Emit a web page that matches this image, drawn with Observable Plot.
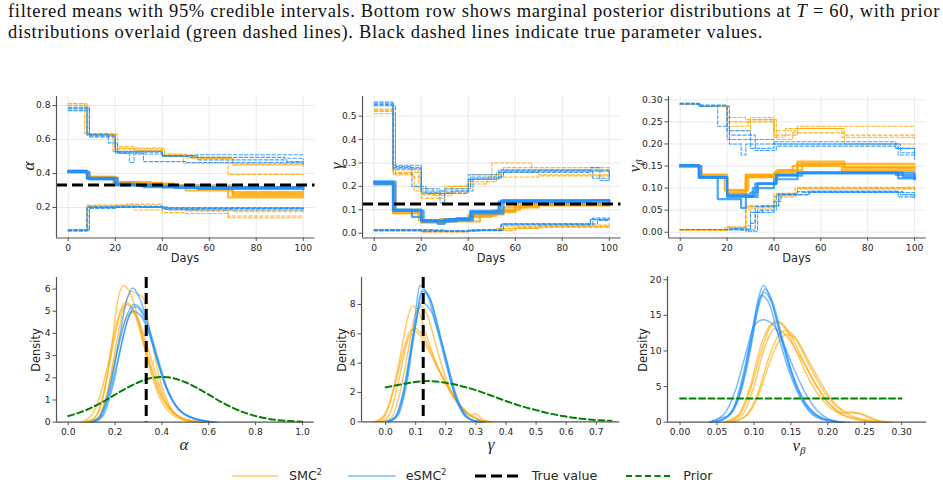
<!DOCTYPE html>
<html>
<head>
<meta charset="utf-8">
<script src="https://cdn.jsdelivr.net/npm/d3@7"></script>
<script src="https://cdn.jsdelivr.net/npm/@observablehq/plot@0.6"></script>
<style>
  html, body { margin: 0; padding: 0; background: #fff; }
  body { width: 943px; height: 487px; position: relative; overflow: hidden; font-family: "DejaVu Sans", sans-serif; }
  .cap { position: absolute; left: 8px; font-family: "Liberation Serif", "DejaVu Serif", serif; font-size: 18.5px; white-space: nowrap; color: #111; line-height: 1; }
  .panel { position: absolute; }
  .lab { position: absolute; white-space: nowrap; color: #262626; transform: translate(-50%, -50%); line-height: 1; }
  .lab.rot { transform: translate(-50%, -50%) rotate(-90deg); }
  .sans { font-family: "DejaVu Sans", sans-serif; font-size: 11.4px; }
  .math { font-family: "Liberation Serif", "DejaVu Serif", serif; font-style: italic; font-size: 17px; }
  .math sub { font-size: 11px; vertical-align: -3px; }
  .leg { position: absolute; font-family: "DejaVu Sans", sans-serif; font-size: 12.7px; color: #262626; transform: translateY(-50%); white-space: nowrap; line-height: 1; }
  .leg sup { font-size: 8px; vertical-align: 5px; }
  .legsw { position: absolute; }
</style>
</head>
<body>
<div class="cap" id="cap1" style="top:2.2px">filtered means with 95% credible intervals. Bottom row shows marginal posterior distributions at <i>T</i> = 60, with prior</div>
<div class="cap" id="cap2" style="top:22.8px">distributions overlaid (green dashed lines). Black dashed lines indicate true parameter values.</div>
<script>
// ---------- colours ----------
const SMC_COLOR = "#FFA500";
const ESMC_COLOR = "#1E90FF";
const PRIOR_COLOR = "#008000";

// ---------- true parameter values ----------
const trueAlpha = 0.333;
const trueGamma = 0.125;

// ---------- filtered estimates over time: each run is a list of [day, value] change points ----------
const alphaUpperSMC = [
  [[0,0.80],[8,0.63],[20,0.55],[40,0.515],[50,0.49],[70,0.455],[100,0.455]],
  [[0,0.81],[7,0.635],[20,0.545],[41,0.505],[49,0.46],[100,0.44]],
  [[0,0.80],[9,0.625],[19,0.53],[40,0.51],[53,0.495],[68,0.395],[100,0.395]],
  [[0,0.81],[8,0.63],[21,0.56],[28,0.535],[40,0.50],[55,0.49],[70,0.45],[100,0.45]]
];
const alphaMeanSMC = [
  [[0,0.41],[8,0.38],[20,0.35],[30,0.345],[40,0.335],[45,0.325],[50,0.315],[70,0.28],[100,0.28]],
  [[0,0.41],[8,0.375],[21,0.345],[28,0.34],[40,0.33],[55,0.31],[68,0.26],[100,0.26]],
  [[0,0.405],[9,0.37],[20,0.34],[30,0.335],[42,0.325],[50,0.30],[70,0.29],[100,0.29]],
  [[0,0.41],[8,0.38],[19,0.35],[35,0.34],[45,0.33],[70,0.27],[100,0.27]]
];
const alphaLowerSMC = [
  [[0,0.07],[8,0.205],[20,0.21],[28,0.185],[40,0.17],[50,0.165],[68,0.15],[100,0.15]],
  [[0,0.065],[8,0.21],[20,0.215],[30,0.20],[42,0.19],[70,0.175],[100,0.175]],
  [[0,0.07],[9,0.20],[22,0.21],[40,0.195],[55,0.185],[100,0.185]],
  [[0,0.065],[8,0.215],[25,0.22],[40,0.20],[50,0.18],[68,0.14],[100,0.14]]
];
const alphaUpperESMC = [
  [[0,0.79],[8,0.625],[20,0.525],[40,0.505],[54,0.51],[100,0.505]],
  [[0,0.78],[9,0.615],[20,0.52],[26,0.465],[28,0.515],[40,0.505],[55,0.48],[93,0.47],[100,0.47]],
  [[0,0.77],[8,0.63],[17,0.58],[21,0.52],[32,0.47],[50,0.465],[100,0.455]],
  [[0,0.785],[9,0.62],[20,0.53],[40,0.50],[52,0.495],[92,0.49],[100,0.48]]
];
const alphaMeanESMC = [
  [[0,0.415],[8,0.37],[20,0.335],[30,0.325],[40,0.32],[50,0.315],[100,0.31]],
  [[0,0.41],[9,0.365],[20,0.33],[32,0.32],[45,0.315],[100,0.305]],
  [[0,0.415],[8,0.375],[21,0.34],[28,0.33],[40,0.32],[55,0.31],[100,0.31]],
  [[0,0.41],[8,0.37],[20,0.335],[40,0.325],[50,0.32],[100,0.315]]
];
const alphaLowerESMC = [
  [[0,0.065],[9,0.195],[20,0.20],[40,0.19],[55,0.195],[100,0.195]],
  [[0,0.06],[8,0.20],[28,0.205],[40,0.195],[100,0.19]],
  [[0,0.07],[9,0.20],[20,0.205],[42,0.185],[100,0.185]],
  [[0,0.065],[8,0.205],[30,0.20],[50,0.20],[100,0.20]]
];

const gammaUpperSMC = [
  [[0,0.52],[8,0.25],[17,0.18],[20,0.15],[30,0.19],[41,0.23],[50,0.30],[67,0.26],[70,0.25],[100,0.25]],
  [[0,0.51],[9,0.26],[20,0.17],[30,0.20],[40,0.22],[52,0.26],[70,0.27],[100,0.265]],
  [[0,0.53],[8,0.27],[19,0.19],[25,0.16],[33,0.20],[41,0.25],[55,0.28],[100,0.26]],
  [[0,0.525],[8,0.255],[16,0.24],[20,0.165],[30,0.175],[40,0.21],[48,0.24],[70,0.245],[100,0.26]]
];
const gammaMeanSMC = [
  [[0,0.21],[8,0.085],[20,0.05],[30,0.055],[41,0.07],[50,0.09],[60,0.11],[70,0.12],[100,0.12]],
  [[0,0.215],[8,0.09],[19,0.055],[35,0.06],[42,0.08],[55,0.11],[65,0.125],[100,0.125]],
  [[0,0.21],[9,0.095],[20,0.045],[30,0.05],[45,0.075],[52,0.10],[62,0.115],[70,0.12],[100,0.12]],
  [[0,0.215],[8,0.10],[20,0.055],[28,0.06],[40,0.075],[50,0.095],[60,0.12],[100,0.125]]
];
const gammaLowerSMC = [
  [[0,0.01],[20,0.005],[40,0.01],[55,0.02],[70,0.03],[100,0.03]],
  [[0,0.012],[25,0.008],[45,0.012],[52,0.02],[70,0.035],[100,0.04]],
  [[0,0.01],[20,0.006],[40,0.012],[60,0.025],[100,0.03]],
  [[0,0.011],[30,0.008],[42,0.013],[55,0.03],[100,0.035]]
];
const gammaUpperESMC = [
  [[0,0.56],[8,0.29],[20,0.19],[28,0.18],[40,0.25],[53,0.27],[92,0.27],[100,0.24]],
  [[0,0.55],[8,0.28],[20,0.18],[30,0.19],[41,0.24],[55,0.265],[93,0.235],[100,0.23]],
  [[0,0.545],[9,0.285],[16,0.20],[22,0.17],[33,0.18],[42,0.235],[54,0.27],[92,0.28],[96,0.225],[100,0.225]],
  [[0,0.555],[8,0.275],[20,0.175],[28,0.13],[30,0.17],[40,0.23],[53,0.26],[92,0.265],[100,0.24]]
];
const gammaMeanESMC = [
  [[0,0.22],[8,0.10],[20,0.055],[27,0.04],[30,0.06],[41,0.09],[54,0.14],[100,0.135]],
  [[0,0.215],[8,0.095],[21,0.05],[32,0.06],[41,0.095],[53,0.135],[92,0.14],[100,0.13]],
  [[0,0.22],[9,0.10],[20,0.055],[30,0.055],[42,0.085],[55,0.14],[100,0.14]],
  [[0,0.21],[8,0.10],[16,0.07],[20,0.05],[35,0.065],[41,0.09],[53,0.13],[100,0.13]]
];
const gammaLowerESMC = [
  [[0,0.014],[20,0.008],[40,0.013],[54,0.04],[92,0.06],[100,0.06]],
  [[0,0.015],[25,0.01],[42,0.015],[54,0.035],[93,0.065],[100,0.065]],
  [[0,0.013],[20,0.009],[40,0.012],[55,0.04],[95,0.055],[100,0.055]],
  [[0,0.014],[30,0.01],[44,0.015],[54,0.038],[92,0.058],[100,0.06]]
];

const nuUpperSMC = [
  [[0,0.29],[8,0.285],[20,0.26],[28,0.255],[40,0.22],[50,0.235],[70,0.22],[100,0.22]],
  [[0,0.29],[8,0.285],[20,0.25],[30,0.26],[40,0.23],[50,0.24],[100,0.24]],
  [[0,0.29],[9,0.285],[21,0.23],[30,0.255],[41,0.21],[48,0.225],[70,0.20],[100,0.20]],
  [[0,0.29],[8,0.285],[20,0.24],[29,0.25],[40,0.215],[45,0.235],[69,0.215],[100,0.21]]
];
const nuMeanSMC = [
  [[0,0.148],[8,0.125],[20,0.09],[28,0.13],[40,0.135],[50,0.155],[100,0.155]],
  [[0,0.148],[8,0.13],[20,0.095],[29,0.125],[41,0.14],[50,0.16],[70,0.145],[100,0.145]],
  [[0,0.15],[8,0.125],[20,0.085],[28,0.13],[40,0.13],[48,0.15],[69,0.14],[100,0.14]],
  [[0,0.148],[9,0.13],[19,0.095],[28,0.125],[42,0.14],[52,0.155],[70,0.148],[100,0.148]]
];
const nuLowerSMC = [
  [[0,0.005],[20,0.01],[28,0.06],[40,0.085],[50,0.10],[100,0.10]],
  [[0,0.005],[20,0.012],[28,0.055],[40,0.08],[49,0.10],[100,0.095]],
  [[0,0.005],[19,0.01],[28,0.015],[30,0.06],[42,0.085],[50,0.098],[100,0.10]],
  [[0,0.005],[21,0.01],[28,0.058],[41,0.088],[50,0.102],[100,0.098]]
];
const nuUpperESMC = [
  [[0,0.292],[8,0.285],[16,0.24],[21,0.20],[26,0.175],[28,0.20],[40,0.205],[92,0.19],[100,0.18]],
  [[0,0.292],[8,0.288],[20,0.23],[30,0.19],[40,0.20],[93,0.175],[100,0.17]],
  [[0,0.29],[9,0.286],[21,0.22],[32,0.185],[41,0.195],[92,0.19],[100,0.165]],
  [[0,0.291],[8,0.287],[20,0.21],[33,0.21],[40,0.20],[94,0.18],[100,0.175]]
];
const nuMeanESMC = [
  [[0,0.152],[8,0.125],[16,0.075],[26,0.055],[28,0.08],[33,0.11],[41,0.13],[50,0.135],[92,0.135],[100,0.12]],
  [[0,0.152],[8,0.123],[20,0.085],[30,0.09],[33,0.11],[41,0.13],[50,0.133],[93,0.122],[100,0.12]],
  [[0,0.15],[9,0.125],[20,0.08],[31,0.10],[40,0.12],[50,0.135],[95,0.125],[100,0.12]],
  [[0,0.152],[8,0.125],[20,0.082],[32,0.11],[41,0.128],[52,0.135],[92,0.13],[100,0.12]]
];
const nuLowerESMC = [
  [[0,0.006],[20,0.005],[30,0.02],[32,0.045],[40,0.06],[42,0.085],[55,0.09],[92,0.09],[100,0.08]],
  [[0,0.006],[22,0.008],[28,0.002],[33,0.05],[41,0.085],[52,0.09],[94,0.085],[100,0.082]],
  [[0,0.006],[25,0.005],[32,0.058],[40,0.07],[43,0.085],[55,0.093],[93,0.08],[100,0.08]],
  [[0,0.006],[20,0.007],[30,0.045],[35,0.06],[42,0.087],[50,0.092],[95,0.085],[100,0.078]]
];

// ---------- marginal posterior densities at T = 60: each run is a list of [x, density] points ----------
const alphaDensSMC = [
  [[0.06,0],[0.10,0.1],[0.14,0.8],[0.18,3.0],[0.21,5.4],[0.235,6.15],[0.26,5.9],[0.29,5.0],[0.32,3.6],[0.36,2.0],[0.40,0.9],[0.45,0.3],[0.50,0.08],[0.58,0]],
  [[0.07,0],[0.11,0.15],[0.15,1.2],[0.19,3.4],[0.22,4.8],[0.25,5.3],[0.28,5.0],[0.31,4.2],[0.34,3.0],[0.38,1.7],[0.42,0.8],[0.47,0.25],[0.53,0.05],[0.60,0]],
  [[0.08,0],[0.12,0.1],[0.16,1.0],[0.20,2.9],[0.24,4.5],[0.27,4.95],[0.30,4.6],[0.33,3.7],[0.37,2.3],[0.41,1.1],[0.46,0.35],[0.52,0.08],[0.60,0]],
  [[0.09,0],[0.13,0.2],[0.17,1.5],[0.21,3.8],[0.24,5.2],[0.27,5.9],[0.30,5.75],[0.32,5.6],[0.35,4.0],[0.39,2.0],[0.43,0.8],[0.48,0.2],[0.55,0.02],[0.60,0]],
  [[0.05,0],[0.09,0.2],[0.13,1.0],[0.17,2.6],[0.21,4.6],[0.245,5.4],[0.28,5.0],[0.31,4.0],[0.35,2.5],[0.39,1.3],[0.44,0.5],[0.50,0.12],[0.57,0]]
];
const alphaDensESMC = [
  [[0.10,0],[0.14,0.3],[0.18,1.6],[0.22,3.9],[0.25,5.5],[0.275,6.05],[0.30,5.7],[0.33,4.8],[0.36,3.6],[0.40,2.1],[0.45,0.9],[0.50,0.35],[0.55,0.12],[0.62,0]],
  [[0.09,0],[0.13,0.2],[0.17,1.3],[0.21,3.2],[0.25,4.8],[0.28,5.3],[0.31,5.1],[0.34,4.4],[0.38,3.0],[0.42,1.6],[0.47,0.6],[0.52,0.25],[0.57,0.1],[0.63,0]],
  [[0.10,0],[0.14,0.25],[0.18,1.4],[0.22,3.2],[0.25,4.5],[0.275,5.0],[0.30,4.9],[0.33,4.4],[0.37,3.2],[0.41,1.8],[0.46,0.7],[0.51,0.25],[0.56,0.1],[0.62,0]],
  [[0.11,0],[0.15,0.3],[0.19,1.6],[0.23,3.6],[0.26,4.8],[0.285,5.2],[0.31,5.0],[0.34,4.2],[0.38,2.8],[0.42,1.5],[0.47,0.6],[0.53,0.2],[0.60,0.02],[0.64,0]]
];
const alphaPrior = [[0,0.28],[0.05,0.44],[0.1,0.66],[0.15,0.93],[0.2,1.24],[0.25,1.54],[0.3,1.80],[0.35,1.98],[0.4,2.04],[0.45,1.98],[0.5,1.80],[0.55,1.54],[0.6,1.24],[0.65,0.93],[0.7,0.66],[0.75,0.44],[0.8,0.28],[0.85,0.16],[0.9,0.09],[0.95,0.05],[1.0,0.02]];

const gammaDensSMC = [
  [[-0.04,0],[-0.01,0.3],[0.02,1.8],[0.05,4.6],[0.07,6.8],[0.09,7.9],[0.11,7.5],[0.14,5.6],[0.17,3.9],[0.20,2.6],[0.23,1.5],[0.26,0.8],[0.29,0.35],[0.32,0.1],[0.36,0]],
  [[-0.03,0],[0.00,0.5],[0.03,2.4],[0.06,4.9],[0.085,6.3],[0.11,6.0],[0.14,5.0],[0.17,3.8],[0.20,2.7],[0.23,1.6],[0.26,0.9],[0.285,0.45],[0.30,0.55],[0.32,0.2],[0.35,0]],
  [[-0.02,0],[0.01,0.4],[0.04,2.5],[0.07,5.3],[0.095,6.4],[0.12,6.0],[0.15,4.8],[0.18,3.4],[0.21,2.3],[0.24,1.3],[0.27,0.6],[0.30,0.25],[0.33,0]],
  [[-0.01,0],[0.02,0.3],[0.05,2.2],[0.08,5.4],[0.10,7.4],[0.12,7.9],[0.14,7.2],[0.17,5.0],[0.20,3.0],[0.23,1.6],[0.26,0.8],[0.29,0.3],[0.32,0.08],[0.34,0]]
];
const gammaDensESMC = [
  [[0.00,0],[0.03,0.3],[0.06,2.0],[0.09,5.8],[0.115,9.3],[0.14,8.6],[0.17,6.4],[0.20,4.0],[0.23,1.8],[0.26,0.5],[0.29,0.1],[0.32,0]],
  [[0.01,0],[0.04,0.4],[0.07,2.6],[0.10,6.6],[0.125,9.0],[0.15,8.3],[0.18,6.0],[0.21,3.6],[0.24,1.5],[0.27,0.4],[0.30,0.05],[0.33,0]],
  [[0.00,0],[0.03,0.3],[0.06,2.2],[0.09,5.7],[0.12,8.1],[0.15,7.6],[0.18,5.8],[0.20,4.4],[0.23,2.0],[0.26,0.6],[0.29,0.1],[0.32,0]],
  [[0.01,0],[0.04,0.5],[0.07,2.9],[0.10,6.8],[0.12,8.9],[0.145,8.5],[0.17,6.8],[0.20,4.2],[0.23,1.8],[0.26,0.5],[0.29,0.1],[0.32,0]]
];
const gammaPrior = [[0,2.35],[0.05,2.55],[0.1,2.72],[0.15,2.78],[0.2,2.66],[0.25,2.45],[0.3,2.16],[0.35,1.8],[0.4,1.42],[0.45,1.08],[0.5,0.8],[0.55,0.55],[0.6,0.36],[0.65,0.22],[0.7,0.13],[0.75,0.07]];

const nuDensSMC = [
  [[0.06,0],[0.08,1.0],[0.095,4.5],[0.11,10],[0.12,13],[0.13,14.2],[0.14,13.5],[0.155,10.5],[0.17,7.0],[0.185,4.2],[0.20,2.3],[0.22,1.0],[0.24,0.5],[0.26,0.1],[0.28,0]],
  [[0.065,0],[0.085,1.2],[0.10,5.0],[0.113,10.0],[0.128,13.1],[0.14,12.5],[0.155,10.5],[0.17,7.8],[0.185,5.0],[0.20,2.8],[0.22,1.3],[0.24,1.3],[0.255,0.6],[0.275,0.05],[0.29,0]],
  [[0.07,0],[0.09,1.0],[0.105,4.0],[0.12,9.0],[0.132,12.0],[0.142,12.9],[0.155,12.0],[0.17,9.0],[0.185,6.0],[0.20,3.5],[0.22,1.5],[0.24,0.6],[0.26,0.2],[0.28,0]],
  [[0.07,0],[0.09,0.9],[0.105,3.5],[0.12,8.0],[0.133,11.2],[0.145,12.3],[0.158,11.5],[0.172,9.0],[0.188,6.0],[0.205,3.2],[0.225,1.5],[0.24,1.3],[0.25,1.0],[0.27,0.2],[0.285,0]],
  [[0.06,0],[0.08,1.2],[0.095,5.0],[0.11,11],[0.122,13.6],[0.135,14.0],[0.148,12.6],[0.163,9.5],[0.18,6.0],[0.195,3.5],[0.21,1.8],[0.23,0.6],[0.25,0.15],[0.27,0]]
];
const nuDensESMC = [
  [[0.04,0],[0.06,0.5],[0.08,4.0],[0.095,11],[0.105,17],[0.113,19.2],[0.122,17.5],[0.135,12.5],[0.15,7.0],[0.165,3.2],[0.18,1.2],[0.20,0.3],[0.22,0]],
  [[0.045,0],[0.065,0.8],[0.08,3.5],[0.095,10],[0.106,16.5],[0.115,18.7],[0.125,17],[0.138,12],[0.152,6.8],[0.168,3.0],[0.185,1.0],[0.205,0.2],[0.22,0]],
  [[0.04,0],[0.055,0.6],[0.065,0.9],[0.08,3.6],[0.095,10.5],[0.107,16.5],[0.114,18.3],[0.124,16.8],[0.138,11.5],[0.153,6.5],[0.17,2.6],[0.19,0.7],[0.21,0.1],[0.23,0]],
  [[0.05,0],[0.07,1.5],[0.085,6.5],[0.10,14],[0.11,17.8],[0.12,16.8],[0.132,12.5],[0.148,7.0],[0.165,3.0],[0.18,1.0],[0.20,0.2],[0.22,0]],
  [[0.04,0],[0.06,1.2],[0.075,4.5],[0.09,10.0],[0.10,13.5],[0.112,14.4],[0.125,13.8],[0.14,11.0],[0.155,7.3],[0.17,4.0],[0.185,1.7],[0.20,0.5],[0.22,0]]
];
const nuPrior = [[0,3.33],[0.3,3.33]];

// ---------- axis ticks ----------
const dayTicks = [0, 20, 40, 60, 80, 100];
const alphaTicks = [0.2, 0.4, 0.6, 0.8];
const gammaTicks = [0, 0.1, 0.2, 0.3, 0.4, 0.5];
const nuTicks = [0, 0.05, 0.10, 0.15, 0.20, 0.25, 0.30];
const alphaDensXTicks = [0, 0.2, 0.4, 0.6, 0.8, 1.0];
const alphaDensYTicks = [0, 1, 2, 3, 4, 5, 6];
const gammaDensXTicks = [0, 0.1, 0.2, 0.3, 0.4, 0.5, 0.6, 0.7];
const gammaDensYTicks = [0, 2, 4, 6, 8];
const nuDensXTicks = [0, 0.05, 0.10, 0.15, 0.20, 0.25, 0.30];
const nuDensYTicks = [0, 5, 10, 15, 20];

// ---------- helpers ----------
const flatten = (runs, key, xName) =>
  runs.flatMap((run, i) => run.map(([x, y]) => ({[xName]: x, value: y, run: key + i})));

const SPINE = "#555";
const TICK_FONT = 9.2;
const M = {left: 40, right: 10, top: 6, bottom: 22};

function mount(svg, x0, y0) {
  const d = document.createElement("div");
  d.className = "panel";
  d.style.left = (x0 - M.left) + "px";
  d.style.top = (y0 - M.top) + "px";
  d.appendChild(svg);
  document.body.appendChild(d);
}

function frameOpts(x0, x1, y0, y1) {
  return {
    width: x1 - x0 + M.left + M.right,
    height: y1 - y0 + M.top + M.bottom,
    marginLeft: M.left, marginRight: M.right, marginTop: M.top, marginBottom: M.bottom,
    style: {background: "transparent", color: "#262626", fontFamily: "DejaVu Sans, sans-serif", fontSize: TICK_FONT + "px", overflow: "visible"}
  };
}

function axes(xTicks, xFmt, yTicks, yFmt, xDomain, yDomain) {
  return [
    Plot.ruleX([xDomain[0]], {stroke: SPINE, strokeWidth: 1.2}),
    Plot.ruleY([yDomain[0]], {stroke: SPINE, strokeWidth: 1.2}),
    Plot.axisX({ticks: xTicks, tickFormat: xFmt, tickSize: 3.5, tickPadding: 3, stroke: SPINE, fontSize: TICK_FONT, label: null}),
    Plot.axisY({ticks: yTicks, tickFormat: yFmt, tickSize: 3.5, tickPadding: 2.5, stroke: SPINE, fontSize: TICK_FONT, label: null})
  ];
}

// Top row: filtered means (solid) with 95% credible bounds (dashed), step functions over days
function trajectoryPanel(box, yDomain, yTicks, yFmt, sets, truth) {
  const xDomain = [-5, 105];
  const [x0, x1, y0, y1] = box;
  const marks = [
    Plot.gridX(dayTicks, {stroke: "#e6e6e6", strokeOpacity: 1, strokeWidth: 0.9}),
    Plot.gridY(yTicks, {stroke: "#e6e6e6", strokeOpacity: 1, strokeWidth: 0.9})
  ];
  for (const s of sets) {
    for (const [runs, kind] of [[s.lower, "lo"], [s.upper, "up"]]) {
      marks.push(Plot.line(flatten(runs, s.name + kind, "day"), {
        x: "day", y: "value", z: "run", curve: "step-after",
        stroke: s.color, strokeWidth: 1.1, strokeOpacity: 0.85, strokeDasharray: "3.5,2"
      }));
    }
  }
  for (const s of sets) {
    marks.push(Plot.line(flatten(s.mean, s.name + "mean", "day"), {
      x: "day", y: "value", z: "run", curve: "step-after",
      stroke: s.color, strokeWidth: 2.2, strokeOpacity: 0.8
    }));
  }
  if (truth != null) marks.push(Plot.ruleY([truth], {stroke: "#000", strokeWidth: 3, strokeDasharray: "11,5"}));
  marks.push(...axes(dayTicks, d3.format("d"), yTicks, yFmt, xDomain, yDomain));
  const svg = Plot.plot({
    ...frameOpts(x0, x1, y0, y1),
    x: {domain: xDomain, label: null},
    y: {domain: yDomain, label: null},
    marks
  });
  mount(svg, x0, y0);
}

// Bottom row: posterior density curves per run, prior overlay and true value
function densityPanel(box, xDomain, yDomain, xTicks, xFmt, yTicks, smc, esmc, prior, truth) {
  const [x0, x1, y0, y1] = box;
  const marks = [
    Plot.line(flatten(smc, "smc", "x"), {x: "x", y: "value", z: "run", curve: "monotone-x", stroke: SMC_COLOR, strokeWidth: 1.5, strokeOpacity: 0.6}),
    Plot.line(flatten(esmc, "esmc", "x"), {x: "x", y: "value", z: "run", curve: "monotone-x", stroke: ESMC_COLOR, strokeWidth: 1.5, strokeOpacity: 0.6}),
    Plot.line(prior.map(([x, y]) => ({x, value: y})), {x: "x", y: "value", curve: "monotone-x", stroke: PRIOR_COLOR, strokeWidth: 2, strokeDasharray: "6,3.5"})
  ];
  if (truth != null) marks.push(Plot.ruleX([truth], {stroke: "#000", strokeWidth: 3, strokeDasharray: "11,5"}));
  marks.push(...axes(xTicks, xFmt, yTicks, d3.format("d"), xDomain, yDomain));
  const svg = Plot.plot({
    ...frameOpts(x0, x1, y0, y1),
    x: {domain: xDomain, label: null},
    y: {domain: yDomain, label: null},
    marks
  });
  mount(svg, x0, y0);
}

const smcSet = (lower, mean, upper) => ({name: "smc", color: SMC_COLOR, lower, mean, upper});
const esmcSet = (lower, mean, upper) => ({name: "esmc", color: ESMC_COLOR, lower, mean, upper});

trajectoryPanel([56, 314.5, 96, 237.5], [0.0206, 0.853], alphaTicks, d3.format(".1f"),
  [smcSet(alphaLowerSMC, alphaMeanSMC, alphaUpperSMC), esmcSet(alphaLowerESMC, alphaMeanESMC, alphaUpperESMC)], trueAlpha);
trajectoryPanel([361.5, 620, 96, 237.5], [-0.0205, 0.584], gammaTicks, d3.format(".1f"),
  [smcSet(gammaLowerSMC, gammaMeanSMC, gammaUpperSMC), esmcSet(gammaLowerESMC, gammaMeanESMC, gammaUpperESMC)], trueGamma);
trajectoryPanel([667.6, 925.4, 96, 237.5], [-0.0131, 0.3075], nuTicks, d3.format(".2f"),
  [smcSet(nuLowerSMC, nuMeanSMC, nuUpperSMC), esmcSet(nuLowerESMC, nuMeanESMC, nuUpperESMC)], null);

densityPanel([56, 313.7, 277, 421.7], [-0.05, 1.05], [0, 6.52], alphaDensXTicks, d3.format(".1f"), alphaDensYTicks,
  alphaDensSMC, alphaDensESMC, alphaPrior, trueAlpha);
densityPanel([361, 619.3, 277.3, 421.7], [-0.08, 0.778], [0, 9.84], gammaDensXTicks, d3.format(".1f"), gammaDensYTicks,
  gammaDensSMC, gammaDensESMC, gammaPrior, trueGamma);
densityPanel([666.7, 926, 276, 421.7], [-0.017, 0.334], [0, 20.46], nuDensXTicks, d3.format(".2f"), nuDensYTicks,
  nuDensSMC, nuDensESMC, nuPrior, null);

// ---------- axis titles ----------
function label(html, cls, x, y) {
  const d = document.createElement("div");
  d.className = "lab " + cls;
  d.style.left = x + "px";
  d.style.top = y + "px";
  d.innerHTML = html;
  document.body.appendChild(d);
}
label("Days", "sans", 185, 258.5);
label("Days", "sans", 491, 258.5);
label("Days", "sans", 796.5, 258.5);
label("α", "math rot", 28, 166);
label("γ", "math rot", 336, 166);
label("ν<sub>β</sub>", "math rot", 635, 166);
label("Density", "sans rot", 37, 350);
label("Density", "sans rot", 343, 350);
label("Density", "sans rot", 644, 350);
label("α", "math", 184, 444);
label("γ", "math", 491, 444);
label("ν<sub>β</sub>", "math", 799, 446);

// ---------- legend ----------
const legendItems = [
  {text: "SMC<sup>2</sup>", x0: 231.7, x1: 278.3, tx: 289, color: SMC_COLOR, width: 1.5, opacity: 0.6, dash: null},
  {text: "eSMC<sup>2</sup>", x0: 348, x1: 395.7, tx: 405.7, color: ESMC_COLOR, width: 1.5, opacity: 0.6, dash: null},
  {text: "True value", x0: 475, x1: 521.7, tx: 531.7, color: "#000", width: 3, opacity: 1, dash: "11,5"},
  {text: "Prior", x0: 626, x1: 672.3, tx: 683.3, color: PRIOR_COLOR, width: 2, opacity: 1, dash: "6,3.5"}
];
const legendY = 475.7;
for (const it of legendItems) {
  const ns = "http://www.w3.org/2000/svg";
  const s = document.createElementNS(ns, "svg");
  s.setAttribute("class", "legsw");
  s.setAttribute("width", it.x1 - it.x0);
  s.setAttribute("height", 8);
  s.style.left = it.x0 + "px";
  s.style.top = (legendY - 4) + "px";
  const l = document.createElementNS(ns, "line");
  l.setAttribute("x1", 0); l.setAttribute("x2", it.x1 - it.x0);
  l.setAttribute("y1", 4); l.setAttribute("y2", 4);
  l.setAttribute("stroke", it.color);
  l.setAttribute("stroke-width", it.width);
  l.setAttribute("stroke-opacity", it.opacity);
  if (it.dash) l.setAttribute("stroke-dasharray", it.dash);
  s.appendChild(l);
  document.body.appendChild(s);
  const t = document.createElement("div");
  t.className = "leg";
  t.style.left = it.tx + "px";
  t.style.top = legendY + "px";
  t.innerHTML = it.text;
  document.body.appendChild(t);
}

// ---------- caption: letter spacing from the last line, first line justified ----------
const cap1 = document.getElementById("cap1");
const cap2 = document.getElementById("cap2");
const chars2 = cap2.textContent.length;
const ls = (755 - cap2.getBoundingClientRect().width) / chars2;
cap1.style.letterSpacing = cap2.style.letterSpacing = ls + "px";
const spaces1 = (cap1.textContent.match(/ /g) || []).length;
const extra1 = 932 - cap1.getBoundingClientRect().width;
cap1.style.wordSpacing = (extra1 / spaces1) + "px";
</script>
</body>
</html>
